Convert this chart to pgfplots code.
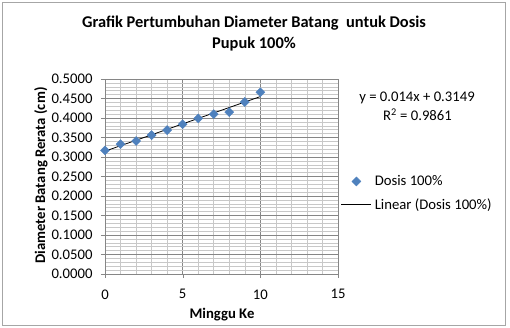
\documentclass[border=0pt]{standalone}
\usepackage{pgfplots}
\pgfplotsset{compat=1.18}
\usepackage{fontspec}
\setmainfont{Carlito}
\definecolor{exblue}{HTML}{4F81BD}
\definecolor{majgrid}{HTML}{868686}
\definecolor{mingrid}{HTML}{C8C8C8}
\pgfplotsset{
  markleg/.style={legend image code/.code={\draw[##1] plot coordinates {(15pt,0pt)};}},
  lineleg/.style={legend image code/.code={\draw[##1] (0pt,0pt) -- (30pt,0pt);}},
}
\newcommand{\bodyfont}{\fontsize{14.7}{17}\selectfont}
\begin{document}
\begin{tikzpicture}[x=1pt,y=1pt]
\useasboundingbox (-105,-54) rectangle (405,274);
\draw[color=black!35,line width=0.8pt] (-102.3,-51) rectangle (400.7,271.3);
\begin{axis}[
  at={(0,0)}, anchor=origin,
  scale only axis, width=233pt, height=195pt,
  xmin=0, xmax=15, ymin=0, ymax=0.5,
  xtick={0,5,10,15}, ytick={0,0.05,...,0.5},
  minor x tick num=4, minor y tick num=4,
  grid=both,
  major grid style={color=majgrid, line width=0.5pt},
  minor grid style={color=mingrid, line width=0.5pt},
  axis line style={color=majgrid, line width=0.6pt},
  tick pos=left, tick align=outside,
  major tick length=4pt, minor tick length=0pt,
  tick style={color=majgrid},
  /pgf/number format/assume math mode=true,
  yticklabel style={xshift=-5pt, /pgf/number format/fixed, /pgf/number format/fixed zerofill, /pgf/number format/precision=4},
  xticklabel style={yshift=-8pt, /pgf/number format/fixed},
  ticklabel style={font=\bodyfont, text=black},
  scaled y ticks=false,
  clip=false,
  legend cell align=left,
  legend style={at={(1.012,0.415)}, anchor=west, draw=none, fill=none,
    inner xsep=0pt, font=\bodyfont, row sep=7pt,
    nodes={inner xsep=3pt}},
]
\addplot[only marks, mark=square*, mark size=3.2pt,
  mark options={rotate=45, fill=exblue, draw=exblue}, markleg]
  coordinates {
  (0,0.317) (1,0.333) (2,0.341) (3,0.356) (4,0.369) (5,0.384)
  (6,0.399) (7,0.410) (8,0.415) (9,0.441) (10,0.466)
  };
\addlegendentry{Dosis 100\%}
\addplot[black, line width=0.8pt, mark=none, lineleg]
  coordinates {(0,0.3149) (10,0.4549)};
\addlegendentry{Linear (Dosis 100\%)}
\end{axis}
\node[anchor=base, font=\fontsize{16.4}{19}\selectfont\bfseries] at (149,246.5)
  {Grafik Pertumbuhan Diameter Batang\ \ untuk Dosis};
\node[anchor=base, font=\fontsize{16.4}{19}\selectfont\bfseries] at (149,225.2)
  {Pupuk 100\%};
\node[anchor=base, font=\bodyfont] at (312,172) {y = 0.014x + 0.3149};
\node[anchor=base, font=\bodyfont] at (312.5,153.5) {R\textsuperscript{2} = 0.9861};
\node[rotate=90, font=\bodyfont\bfseries] at (-64,98.5)
  {Diameter Batang Rerata (cm)};
\node[font=\bodyfont\bfseries] at (117,-41) {Minggu Ke};
\end{tikzpicture}
\end{document}
